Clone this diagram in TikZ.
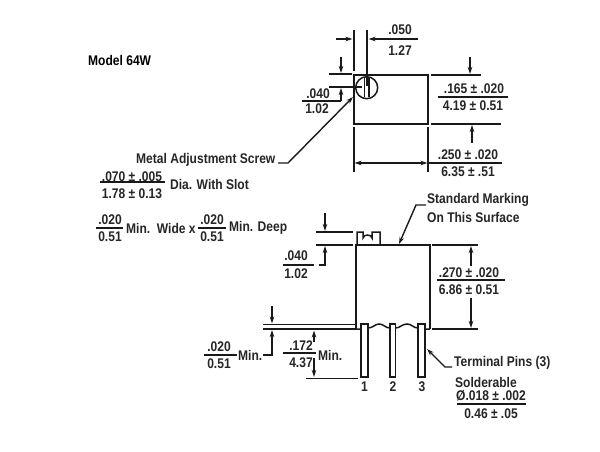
\documentclass[tikz,border=0pt]{standalone}
\usepackage{fontspec}
\setmainfont{Liberation Sans}[FakeStretch=0.86]
\usetikzlibrary{arrows.meta}
\tikzset{
  lbl/.style={inner sep=0pt,font=\fontsize{14}{16}\selectfont\bfseries,text=black!85},
  lft/.style={lbl,anchor=west},
  ln/.style={line width=1.4pt,black!90},
  thick body/.style={line width=1.8pt,black!90},
  arr/.style={ln,-{Stealth[length=7pt,width=4.5pt]}},
  darr/.style={ln,{Stealth[length=7pt,width=4.5pt]}-{Stealth[length=7pt,width=4.5pt]}}
}
\begin{document}
\begin{tikzpicture}[x=1pt,y=-1pt]
\useasboundingbox (0,0) rectangle (600,451);
\fill[white] (0,0) rectangle (600,451);
\node[lft,text=black] (model) at (88,60) {Model 64W};
% top view
\draw[thick body] (354,75) rectangle (428,124);
\draw[ln,line width=1.5pt] (366.7,87.7) circle (11);
\draw[ln] (364.5,78) -- (364.5,97) (369,78) -- (369,97);
\draw[ln] (354,30) -- (354,71) (367,30) -- (367,86);
\draw[arr] (336,39) -- (352.5,39);
\draw[arr] (418,39) -- (368.5,39);
\node[lbl] (t050) at (400,30) {.050};
\node[lbl] (t127) at (400,51) {1.27};
\draw[ln] (329,74) -- (352,74) (329,87) -- (362,87);
\draw[arr] (341,57) -- (341,73);
\draw[ln] (302,101) -- (341,101);
\draw[arr] (341,101) -- (341,88);
\node[lbl] (t040a) at (318,94) {.040};
\node[lbl] (t102a) at (317,108.5) {1.02};
\draw[ln] (431,75) -- (481,75) (431,124) -- (501,124);
\draw[arr] (470,57) -- (470,74);
\draw[arr] (472,143) -- (472,125);
\draw[ln] (438,97) -- (508,97);
\node[lbl] (t165) at (474,88.5) {.165 ± .020};
\node[lbl] (t419) at (473,106) {4.19 ± 0.51};
\draw[ln] (354,127) -- (354,172) (428,127) -- (428,172);
\draw[darr] (354.5,163) -- (427.5,163);
\draw[ln] (428,163) -- (502,163);
\node[lbl] (t250) at (468,154.5) {.250 ± .020};
\node[lbl] (t635) at (468,172) {6.35 ± .51};
% screw label
\node[lft] (screw) at (136,160) {Metal Adjustment Screw};
\draw[arr] (278,163) -- (288,163) -- (353,97);
\node[lbl] (t070) at (132,176.5) {.070 ± .005};
\draw[ln] (100,182) -- (165,182);
\node[lbl] (t178) at (132,193.5) {1.78 ± 0.13};
\node[lft] (slot) at (170,184) {Dia. With Slot};
\node[lbl] (t020a) at (110,220) {.020};
\draw[ln] (96,228) -- (123,228);
\node[lbl] (t051a) at (110,237) {0.51};
\node[lft] (wide) at (126,228) {Min.\ \ Wide x};
\node[lbl] (t020b) at (212,220) {.020};
\draw[ln] (198,228) -- (226,228);
\node[lbl] (t051b) at (212,237) {0.51};
\node[lft] (deep) at (229,228) {Min. Deep};
% side view
\draw[thick body] (356,329) -- (356,245) -- (430,245) -- (430,329);
\draw[ln,line width=1.5pt] (357,244) -- (357,232) -- (363,232) -- (363,238) arc[start angle=180,end angle=360,x radius=4.5,y radius=3] -- (372,232) -- (380,232) -- (380,244);
\draw[ln,line width=1.5pt] (356,329) -- (361,329)
  (368,328) .. controls (373,328) and (375,324) .. (379,324) .. controls (384,324) and (385,328) .. (390,328)
  (395.5,328) .. controls (400,328) and (402,324) .. (407,324) .. controls (412,324) and (413,328) .. (418,328)
  (425,329) -- (430,329);
\draw[ln,fill=white] (361,324) rectangle (368,377);
\draw[ln,fill=white] (390,324) rectangle (395.5,377);
\draw[ln,fill=white] (418,324) rectangle (425,377);
\node[lbl] (p1) at (364.5,387) {1};
\node[lbl] (p2) at (393,387) {2};
\node[lbl] (p3) at (422,387) {3};
\draw[ln] (316,232) -- (353,232) (316,245) -- (353,245);
\draw[arr] (325,213) -- (325,231);
\draw[arr] (319,265) -- (325,265) -- (325,246);
\draw[ln] (283,265) -- (314,265);
\node[lbl] (t040b) at (296,256) {.040};
\node[lbl] (t102b) at (296,274) {1.02};
\draw[ln] (432,245) -- (478,245) (432,329) -- (478,329);
\draw[arr] (471,266) -- (471,246);
\draw[arr] (471,298) -- (471,328);
\draw[ln] (437,280) -- (505,280);
\node[lbl] (t270) at (469,272.5) {.270 ± .020};
\node[lbl] (t686) at (469,290) {6.86 ± 0.51};
\node[lft] (std1) at (427,200) {Standard Marking};
\node[lft] (std2) at (427,217) {On This Surface};
\draw[arr] (426,205) -- (416,205) -- (399,244);
\draw[ln] (263,324.5) -- (356,324.5) (263,329) -- (356,329);
\draw[arr] (272,306) -- (272,323.5);
\draw[arr] (263,355) -- (272,355) -- (272,330);
\node[lbl] (t020c) at (219,347) {.020};
\draw[ln] (204,355) -- (237,355);
\node[lbl] (t051c) at (219,364) {0.51};
\node[lft] (min1) at (238,355) {Min.};
\node[lbl] (t172) at (301,346) {.172};
\draw[ln] (283,353) -- (316,353);
\node[lbl] (t437) at (301,363) {4.37};
\node[lft] (min2) at (318,355) {Min.};
\draw[arr] (314,342) -- (314,330.5);
\draw[arr] (314,358) -- (314,377);
\draw[ln] (306,378.5) -- (358,378.5);
\node[lft] (term) at (454,363) {Terminal Pins (3)};
\draw[arr] (452,367) -- (445,367) -- (427,349);
\node[lft] (sold) at (455,382) {Solderable};
\node[lbl] (t018) at (491,396) {Ø.018 ± .002};
\draw[ln] (457,404) -- (526,404);
\node[lbl] (t046) at (491,414) {0.46 ± .05};
\end{tikzpicture}
\end{document}
